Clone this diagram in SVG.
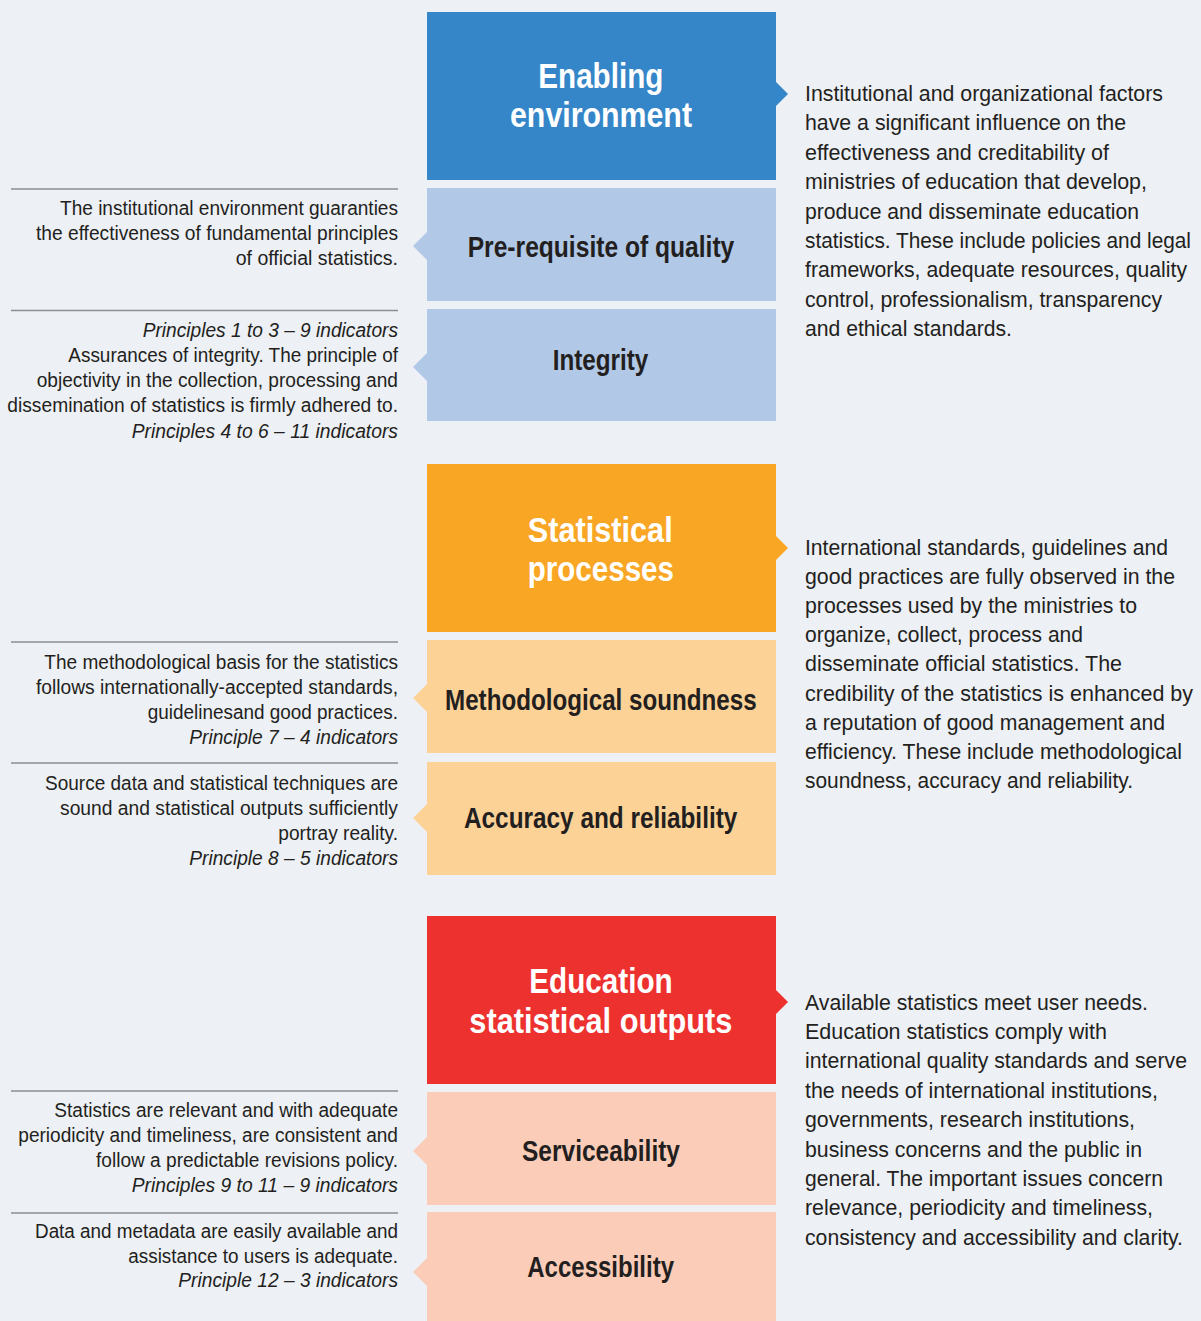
<svg xmlns="http://www.w3.org/2000/svg" width="1201" height="1321" viewBox="0 0 1201 1321">
<style>
text{font-family:"Liberation Sans",Arial,sans-serif;fill:#231f20}
.title{font-weight:bold;font-size:35px;fill:#ffffff}
.sub{font-weight:bold;font-size:30px}
.left{font-size:20px}
.right{font-size:22px}
.it{font-style:italic}
.sep{stroke:#8c8e91;stroke-width:1.4;fill:none}
.blue{fill:#3586c8}.lblue{fill:#b1c8e6}
.orange{fill:#f8a624}.lorange{fill:#fdd297}
.red{fill:#ed312f}.lred{fill:#fbcdb8}
</style>
<rect width="1201" height="1321" fill="#edf0f5"/>

<g id="separators">
<line class="sep" x1="11" y1="189" x2="398" y2="189"/>
<line class="sep" x1="11" y1="310.5" x2="398" y2="310.5"/>
<line class="sep" x1="11" y1="642" x2="398" y2="642"/>
<line class="sep" x1="11" y1="763" x2="398" y2="763"/>
<line class="sep" x1="11" y1="1091" x2="398" y2="1091"/>
<line class="sep" x1="11" y1="1213" x2="398" y2="1213"/>
</g>
<g id="connectors"></g>

<!-- Section 1 -->
<g id="enabling-environment">
<rect class="blue" x="427" y="12" width="349" height="168"/>
<polygon class="blue" points="776,82 788,94 776,106"/>
<text class="title" x="538.3" y="88" textLength="125" lengthAdjust="spacingAndGlyphs">Enabling</text>
<text class="title" x="510" y="127" textLength="182" lengthAdjust="spacingAndGlyphs">environment</text>
</g>
<g id="enabling-description">
<text class="right" x="805" y="101" textLength="358" lengthAdjust="spacingAndGlyphs">Institutional and organizational factors</text>
<text class="right" x="805" y="130.4" textLength="321" lengthAdjust="spacingAndGlyphs">have a significant influence on the</text>
<text class="right" x="805" y="159.8" textLength="304" lengthAdjust="spacingAndGlyphs">effectiveness and creditability of</text>
<text class="right" x="805" y="189.2" textLength="342" lengthAdjust="spacingAndGlyphs">ministries of education that develop,</text>
<text class="right" x="805" y="218.6" textLength="334" lengthAdjust="spacingAndGlyphs">produce and disseminate education</text>
<text class="right" x="805" y="248" font-size="21" textLength="386" lengthAdjust="spacingAndGlyphs">statistics. These include policies and legal</text>
<text class="right" x="805" y="277.4" textLength="382" lengthAdjust="spacingAndGlyphs">frameworks, adequate resources, quality</text>
<text class="right" x="805" y="306.8" textLength="357" lengthAdjust="spacingAndGlyphs">control, professionalism, transparency</text>
<text class="right" x="805" y="336.2" textLength="207" lengthAdjust="spacingAndGlyphs">and ethical standards.</text>
</g>
<g id="prerequisite-of-quality">
<rect class="lblue" x="427" y="188" width="349" height="113"/>
<polygon class="lblue" points="427,232 413,246 427,260"/>
<text class="sub" x="467.7" y="257" textLength="266.6" lengthAdjust="spacingAndGlyphs">Pre-requisite of quality</text>
<text class="left" x="60" y="215" textLength="338" lengthAdjust="spacingAndGlyphs">The institutional environment guaranties</text>
<text class="left" x="36" y="240" textLength="362" lengthAdjust="spacingAndGlyphs">the effectiveness of fundamental principles</text>
<text class="left" x="235.7" y="265" textLength="162.3" lengthAdjust="spacingAndGlyphs">of official statistics.</text>
</g>
<g id="integrity">
<rect class="lblue" x="427" y="309" width="349" height="112"/>
<polygon class="lblue" points="427,353 413,367 427,381"/>
<text class="sub" x="552.7" y="370" textLength="95.6" lengthAdjust="spacingAndGlyphs">Integrity</text>
<text class="left it" x="142.7" y="337" textLength="255.3" lengthAdjust="spacingAndGlyphs">Principles 1 to 3 – 9 indicators</text>
<text class="left" x="68.3" y="362" textLength="329.7" lengthAdjust="spacingAndGlyphs">Assurances of integrity. The principle of</text>
<text class="left" x="36.7" y="387" textLength="361.3" lengthAdjust="spacingAndGlyphs">objectivity in the collection, processing and</text>
<text class="left" x="7.3" y="412" textLength="390.7" lengthAdjust="spacingAndGlyphs">dissemination of statistics is firmly adhered to.</text>
<text class="left it" x="131.7" y="438" textLength="266.3" lengthAdjust="spacingAndGlyphs">Principles 4 to 6 – 11 indicators</text>
</g>

<!-- Section 2 -->
<g id="statistical-processes">
<rect class="orange" x="427" y="464" width="349" height="168"/>
<polygon class="orange" points="776,536 788,548 776,560"/>
<text class="title" x="527.7" y="542" textLength="145" lengthAdjust="spacingAndGlyphs">Statistical</text>
<text class="title" x="527.7" y="581" textLength="146.3" lengthAdjust="spacingAndGlyphs">processes</text>
</g>
<g id="processes-description">
<text class="right" x="805" y="554.5" textLength="363" lengthAdjust="spacingAndGlyphs">International standards, guidelines and</text>
<text class="right" x="805" y="583.7" textLength="370" lengthAdjust="spacingAndGlyphs">good practices are fully observed in the</text>
<text class="right" x="805" y="612.9" textLength="332" lengthAdjust="spacingAndGlyphs">processes used by the ministries to</text>
<text class="right" x="805" y="642.1" textLength="278" lengthAdjust="spacingAndGlyphs">organize, collect, process and</text>
<text class="right" x="805" y="671.3" textLength="317" lengthAdjust="spacingAndGlyphs">disseminate official statistics. The</text>
<text class="right" x="805" y="700.5" textLength="388" lengthAdjust="spacingAndGlyphs">credibility of the statistics is enhanced by</text>
<text class="right" x="805" y="729.7" textLength="360" lengthAdjust="spacingAndGlyphs">a reputation of good management and</text>
<text class="right" x="805" y="758.9" textLength="377" lengthAdjust="spacingAndGlyphs">efficiency. These include methodological</text>
<text class="right" x="805" y="788.1" textLength="328" lengthAdjust="spacingAndGlyphs">soundness, accuracy and reliability.</text>
</g>
<g id="methodological-soundness">
<rect class="lorange" x="427" y="640" width="349" height="113"/>
<polygon class="lorange" points="427,684 413,698 427,712"/>
<text class="sub" x="445" y="710" textLength="311.7" lengthAdjust="spacingAndGlyphs">Methodological soundness</text>
<text class="left" x="44.3" y="669" textLength="353.7" lengthAdjust="spacingAndGlyphs">The methodological basis for the statistics</text>
<text class="left" x="36" y="694" textLength="362" lengthAdjust="spacingAndGlyphs">follows internationally-accepted standards,</text>
<text class="left" x="147.7" y="719" textLength="250.3" lengthAdjust="spacingAndGlyphs">guidelinesand good practices.</text>
<text class="left it" x="189.3" y="743.5" textLength="208.7" lengthAdjust="spacingAndGlyphs">Principle 7 – 4 indicators</text>
</g>
<g id="accuracy-and-reliability">
<rect class="lorange" x="427" y="762" width="349" height="113"/>
<polygon class="lorange" points="427,804 413,818 427,832"/>
<text class="sub" x="464" y="828" textLength="273.3" lengthAdjust="spacingAndGlyphs">Accuracy and reliability</text>
<text class="left" x="45" y="790" textLength="353" lengthAdjust="spacingAndGlyphs">Source data and statistical techniques are</text>
<text class="left" x="60" y="815" textLength="338" lengthAdjust="spacingAndGlyphs">sound and statistical outputs sufficiently</text>
<text class="left" x="278.3" y="840" textLength="119.7" lengthAdjust="spacingAndGlyphs">portray reality.</text>
<text class="left it" x="189.3" y="865" textLength="208.7" lengthAdjust="spacingAndGlyphs">Principle 8 – 5 indicators</text>
</g>

<!-- Section 3 -->
<g id="education-statistical-outputs">
<rect class="red" x="427" y="916" width="349" height="168"/>
<polygon class="red" points="776,990 788,1002 776,1014"/>
<text class="title" x="529.3" y="993" textLength="143.4" lengthAdjust="spacingAndGlyphs">Education</text>
<text class="title" x="469.3" y="1033" textLength="263" lengthAdjust="spacingAndGlyphs">statistical outputs</text>
</g>
<g id="outputs-description">
<text class="right" x="805" y="1009.5" textLength="343" lengthAdjust="spacingAndGlyphs">Available statistics meet user needs.</text>
<text class="right" x="805" y="1038.9" textLength="302" lengthAdjust="spacingAndGlyphs">Education statistics comply with</text>
<text class="right" x="805" y="1068.3" textLength="382" lengthAdjust="spacingAndGlyphs">international quality standards and serve</text>
<text class="right" x="805" y="1097.7" textLength="353" lengthAdjust="spacingAndGlyphs">the needs of international institutions,</text>
<text class="right" x="805" y="1127.1" textLength="330" lengthAdjust="spacingAndGlyphs">governments, research institutions,</text>
<text class="right" x="805" y="1156.5" textLength="337" lengthAdjust="spacingAndGlyphs">business concerns and the public in</text>
<text class="right" x="805" y="1185.9" textLength="358" lengthAdjust="spacingAndGlyphs">general. The important issues concern</text>
<text class="right" x="805" y="1215.3" textLength="348" lengthAdjust="spacingAndGlyphs">relevance, periodicity and timeliness,</text>
<text class="right" x="805" y="1244.7" textLength="378" lengthAdjust="spacingAndGlyphs">consistency and accessibility and clarity.</text>
</g>
<g id="serviceability">
<rect class="lred" x="427" y="1092" width="349" height="113"/>
<polygon class="lred" points="427,1137 413,1151 427,1165"/>
<text class="sub" x="522" y="1161" textLength="158" lengthAdjust="spacingAndGlyphs">Serviceability</text>
<text class="left" x="54.3" y="1117" textLength="343.7" lengthAdjust="spacingAndGlyphs">Statistics are relevant and with adequate</text>
<text class="left" x="18.3" y="1142" textLength="379.7" lengthAdjust="spacingAndGlyphs">periodicity and timeliness, are consistent and</text>
<text class="left" x="96" y="1167" textLength="302" lengthAdjust="spacingAndGlyphs">follow a predictable revisions policy.</text>
<text class="left it" x="131.7" y="1192" textLength="266.3" lengthAdjust="spacingAndGlyphs">Principles 9 to 11 – 9 indicators</text>
</g>
<g id="accessibility">
<rect class="lred" x="427" y="1212" width="349" height="109"/>
<polygon class="lred" points="427,1258 413,1272 427,1286"/>
<text class="sub" x="527.3" y="1277" textLength="146.7" lengthAdjust="spacingAndGlyphs">Accessibility</text>
<text class="left" x="35" y="1238" textLength="363" lengthAdjust="spacingAndGlyphs">Data and metadata are easily available and</text>
<text class="left" x="128.3" y="1263" textLength="269.7" lengthAdjust="spacingAndGlyphs">assistance to users is adequate.</text>
<text class="left it" x="178.3" y="1287" textLength="219.7" lengthAdjust="spacingAndGlyphs">Principle 12 – 3 indicators</text>
</g>
</svg>
